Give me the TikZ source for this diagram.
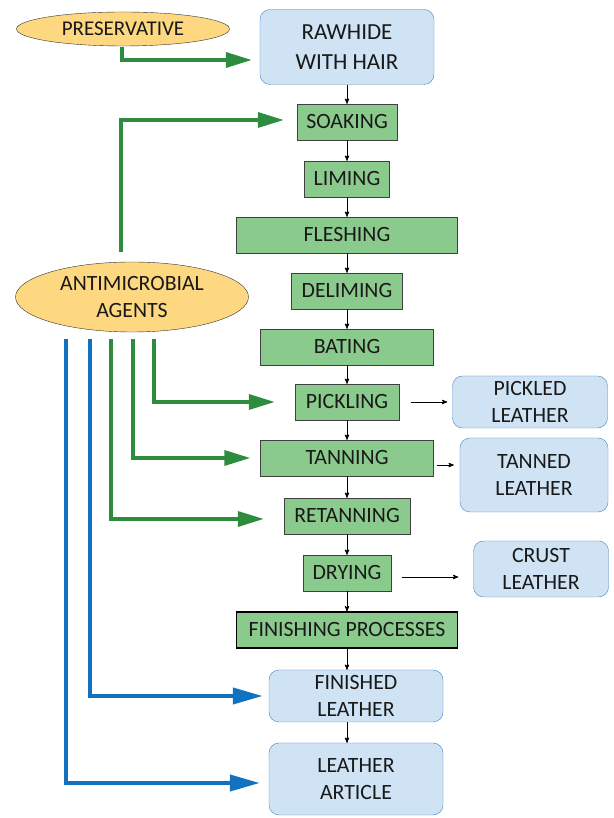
\documentclass[tikz,border=0pt]{standalone}
\usepackage{fontspec}
\setmainfont{Carlito}
\usepackage{tikz}
\usetikzlibrary{arrows,arrows.meta,shapes.geometric,positioning}

\definecolor{stepgreen}{RGB}{139,202,141}
\definecolor{arrowgreen}{RGB}{46,140,62}
\definecolor{arrowblue}{RGB}{18,114,192}
\definecolor{boxblue}{RGB}{207,227,245}
\definecolor{edgeblue}{RGB}{72,132,192}
\definecolor{agentyellow}{RGB}{253,216,128}

\begin{document}
\begin{tikzpicture}[x=1pt,y=1pt,>=stealth',node distance=56pt,semithick]
\tikzstyle{process}=[draw=black!75,thin,fill=stepgreen,minimum height=36pt,inner sep=1pt,text=black!90,font=\fontsize{21.8pt}{24pt}\selectfont]
\tikzstyle{product}=[draw=edgeblue,thin,fill=boxblue,rounded corners=10pt,align=center,inner sep=1pt,text=black!90,font=\fontsize{21.8pt}{27pt}\selectfont]
\tikzstyle{agent}=[ellipse,draw=black!80,thin,fill=agentyellow,align=center,inner sep=0pt,text=black!90,font=\fontsize{21.8pt}{27pt}\selectfont]
\tikzstyle{flow}=[->,black,line width=0.9pt]
\tikzstyle{greenline}=[draw=arrowgreen,line width=3.5pt,-{Triangle[length=26pt,width=15pt]}]
\tikzstyle{blueline}=[draw=arrowblue,line width=4pt,-{Triangle[length=30pt,width=16pt]}]

\useasboundingbox (0,0) rectangle (613,818);

        % main column
        \node[product,minimum width=174pt,minimum height=75pt,font=\fontsize{23pt}{30pt}\selectfont] (raw) at (347,771) {RAWHIDE\\WITH HAIR};
        \node[process,minimum width=100pt] (soak) [below of=raw,node distance=75pt] {SOAKING};
        \node[process,minimum width=85pt]  (lime) [below of=soak,node distance=57pt] {LIMING};
        \node[process,minimum width=221pt] (flesh) [below of=lime] {FLESHING};
        \node[process,minimum width=111pt] (delime) [below of=flesh] {DELIMING};
        \node[process,minimum width=173pt] (bate) [below of=delime] {BATING};
        \node[process,minimum width=104pt] (pickle) [below of=bate,node distance=55pt] {PICKLING};
        \node[process,minimum width=173pt] (tan) [below of=pickle] {TANNING};
        \node[process,minimum width=126pt] (retan) [below of=tan,node distance=58pt] {RETANNING};
        \node[process,minimum width=88pt]  (dry) [below of=retan,node distance=57pt] {DRYING};
        \node[process,minimum width=221pt,draw=black,line width=1.2pt] (finish) [below of=dry,node distance=57pt] {FINISHING PROCESSES};
        \node[product,minimum width=174pt,minimum height=52pt] (finished) [below of=finish,node distance=66pt,xshift=9pt] {FINISHED\\LEATHER};
        \node[product,minimum width=174pt,minimum height=72pt] (article) [below of=finished,node distance=83pt] {LEATHER\\ARTICLE};

        % side products
        \node[product,minimum width=155pt,minimum height=52pt] (pickled) [right of=pickle,node distance=183pt] {PICKLED\\LEATHER};
        \node[product,minimum width=148pt,minimum height=74pt] (tanned) [right of=tan,node distance=187pt,yshift=-17pt] {TANNED\\LEATHER};
        \node[product,minimum width=135pt,minimum height=56pt] (crust) [right of=dry,node distance=194pt,yshift=4pt] {CRUST\\LEATHER};

        % agents
        \node[agent,minimum width=213pt,minimum height=34pt,font=\fontsize{21pt}{24pt}\selectfont] (pres) at (123,789) {PRESERVATIVE};
        \node[agent,minimum width=233pt,minimum height=70pt] (anti) at (132,521) {ANTIMICROBIAL\\AGENTS};

        \path[flow]
        (raw)    edge node {} (soak)
        (soak)   edge node {} (lime)
        (lime)   edge node {} (flesh)
        (flesh)  edge node {} (delime)
        (delime) edge node {} (bate)
        (bate)   edge node {} (pickle)
        (pickle) edge node {} (tan)
        (tan)    edge node {} (retan)
        (retan)  edge node {} (dry)
        (dry)    edge node {} (finish)
        ; %end path

        \draw[flow] (finish.south) -- (finish.south |- finished.north);
        \draw[flow] (finished.south -| finish.south) -- (article.north -| finish.south);

        \draw[flow,shorten <=12pt,shorten >=5pt] (pickle.east) -- (pickle.east -| pickled.west);
        \draw[flow,shorten <=3pt,shorten >=6pt] ([yshift=-7pt]tan.east) -- ([yshift=-7pt]tan.east -| tanned.west);
        \draw[flow,shorten <=11pt,shorten >=15pt] ([yshift=-4pt]dry.east) -- ([yshift=-4pt]dry.east -| crust.west);

        % agent arrows
        \draw[greenline,shorten >=8pt] ([xshift=-1pt,yshift=-1pt]pres.south) |- ([yshift=-13pt]raw.west);
        \draw[greenline,shorten >=13pt] ([xshift=-11pt,yshift=10pt]anti.north) |- ([yshift=2pt]soak.west);
        \draw[greenline,shorten >=20pt] ([xshift=22pt,yshift=-7pt]anti.south) |- (pickle.west);
        \draw[greenline,shorten >=10pt] ([xshift=1pt,yshift=-7pt]anti.south) |- (tan.west);
        \draw[greenline,shorten >=20pt] ([xshift=-21pt,yshift=-7pt]anti.south) |- ([yshift=-3pt]retan.west);
        \draw[blueline,shorten >=6pt] ([xshift=-42pt,yshift=-7pt]anti.south) |- (finished.west);
        \draw[blueline,shorten >=9pt] ([xshift=-66pt,yshift=-7pt]anti.south) |- ([yshift=-4pt]article.west);

\end{tikzpicture}
\end{document}
